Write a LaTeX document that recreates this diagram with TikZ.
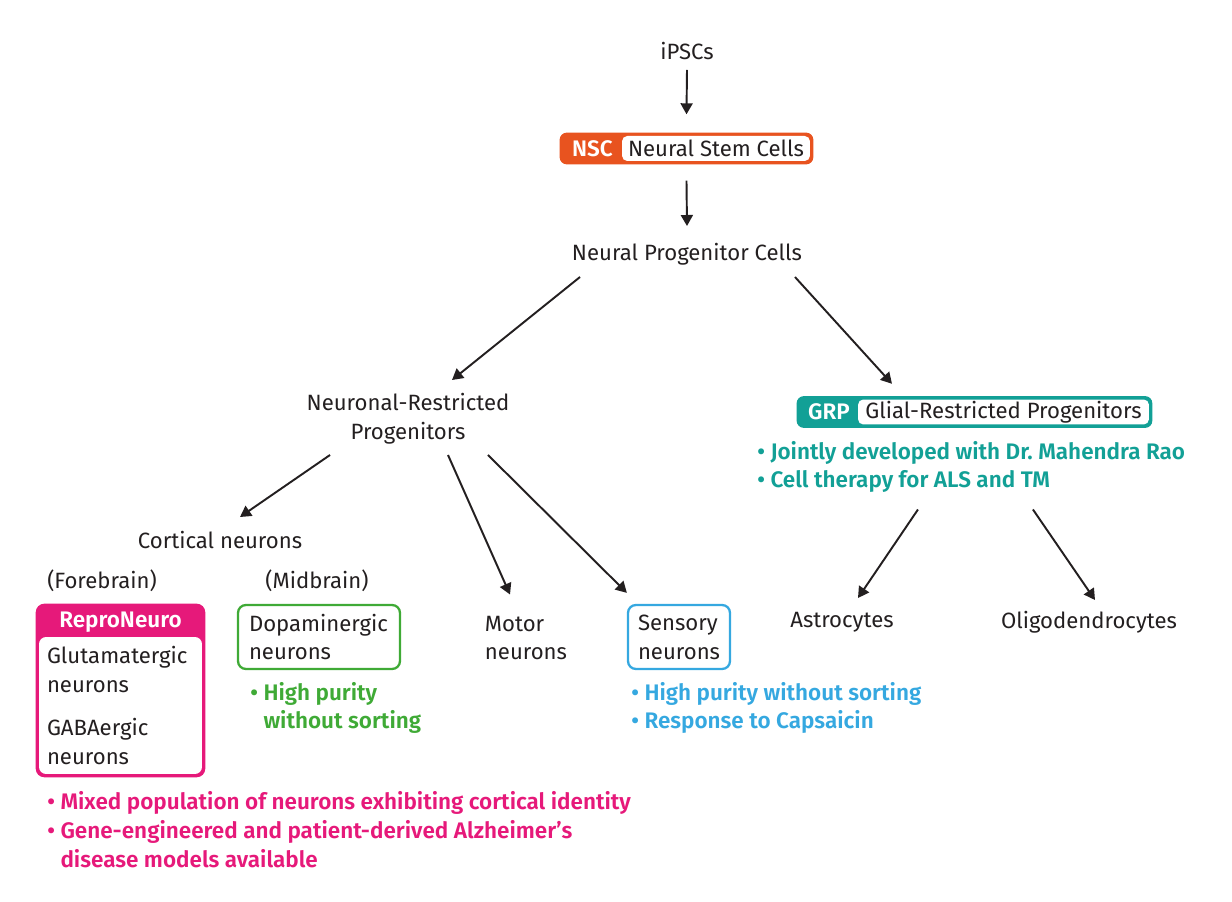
\documentclass[tikz,border=0pt]{standalone}
\usepackage{fontspec}
\setmainfont{Fira Sans}[BoldFont={Fira Sans SemiBold}]
\usetikzlibrary{arrows.meta,fit,backgrounds}

\definecolor{nscorange}{HTML}{E8531F}
\definecolor{grpteal}{HTML}{12A096}
\definecolor{repropink}{HTML}{E6197A}
\definecolor{dopagreen}{HTML}{3FAA36}
\definecolor{sensblue}{HTML}{35A8E0}
\definecolor{inkblack}{HTML}{231F20}

\begin{document}
\begin{tikzpicture}[
    x=0.02cm, y=-0.02cm,
    every node/.style={
        font=\fontsize{12.6pt}{16.4pt}\selectfont,
        text=inkblack
    },
    plain/.style={
        inner sep=0pt,
        align=center
    },
    tagname/.style={
        inner sep=0pt,
        minimum height=0.5cm,
        font=\fontsize{12.8pt}{16.4pt}\selectfont\bfseries,
        text=white
    },
    inbox/.style={
        rectangle,
        rounded corners=3pt,
        fill=white,
        inner sep=0pt,
        minimum height=0.5cm
    },
    tagframe/.style={
        rectangle,
        rounded corners=4pt,
        inner sep=0.06cm
    },
    cellbox/.style={
        rectangle,
        rounded corners=4.5pt,
        line width=1.3pt,
        fill=white,
        align=left,
        inner ysep=0pt,
        minimum height=1.28cm
    },
    notes/.style={
        inner sep=0pt,
        align=left,
        font=\fontsize{12.8pt}{16.4pt}\selectfont\bfseries
    },
    flow/.style={
        draw=inkblack,
        line width=1.1pt,
        -{Triangle[length=0.22cm, width=0.24cm]}
    }
]
\useasboundingbox (0,0) rectangle (1232,902);

% Top of the lineage
\node[plain] (ipsc) at (687,51) {iPSCs};
\node[tagname, minimum width=1.18cm] (nsctag) at (592.5,148.5) {NSC};
\node[inbox, minimum width=3.76cm] (nsc) at (716,148.5) {Neural Stem Cells};
\node[plain] (npc) at (687,254) {Neural Progenitor Cells};

% Restricted progenitors
\node[plain] (nrp) at (408,419) {Neuronal-Restricted\\Progenitors};
\node[tagname, minimum width=1.16cm] (grptag) at (829,412) {GRP};
\node[inbox, minimum width=5.82cm] (grp) at (1003.5,412) {Glial-Restricted Progenitors};
\node[notes, text=grpteal, anchor=west] (grpnotes) at (757,467)
    {\textbullet\ Jointly developed with Dr.\ Mahendra Rao\\\textbullet\ Cell therapy for ALS and TM};

% Neuronal branch
\node[plain] (cortical) at (220,540) {Cortical neurons};
\node[plain] (fore) at (102,581) {(Forebrain)};
\node[plain] (mid) at (317,581) {(Midbrain)};

\node[tagname, minimum width=3.26cm, minimum height=0.6cm] (reprotag) at (120.5,622) {ReproNeuro};
\node[inbox, rounded corners=4pt, minimum width=3.26cm, minimum height=2.74cm,
      text width=2.94cm, inner xsep=0.16cm, align=left] (repro) at (120.5,705.5)
    {Glutamatergic\\neurons\\[0.28cm]GABAergic\\neurons};
\node[notes, text=repropink, anchor=west] (repronotes) at (47,829.5)
    {\textbullet\ Mixed population of neurons exhibiting cortical identity\\\textbullet\ Gene-engineered and patient-derived Alzheimer’s\\\hphantom{\textbullet\ }disease models available};

\node[cellbox, draw=dopagreen, text width=2.8cm, inner xsep=0.22cm] (dopa) at (319,637) {Dopaminergic\\neurons};
\node[notes, text=dopagreen, anchor=west] (dopanotes) at (250,708)
    {\textbullet\ High purity\\\hphantom{\textbullet\ }without sorting};

\node[plain, align=left] (motor) at (526,638) {Motor\\neurons};

\node[cellbox, draw=sensblue, text width=1.64cm, inner xsep=0.2cm] (sensory) at (679,637) {Sensory\\neurons};
\node[notes, text=sensblue, anchor=west] (sensnotes) at (631,708)
    {\textbullet\ High purity without sorting\\\textbullet\ Response to Capsaicin};

% Glial branch
\node[plain] (astro) at (842,622) {Astrocytes};
\node[plain] (oligo) at (1089,622) {Oligodendrocytes};

% Tag frames
\begin{scope}[on background layer]
\node[tagframe, fill=nscorange, fit=(nsctag)(nsc)] (nscframe) {};
\node[tagframe, fill=grpteal, fit=(grptag)(grp)] (grpframe) {};
\node[tagframe, fill=repropink, rounded corners=5pt, fit=(reprotag)(repro)] (reproframe) {};
\end{scope}

% Arrows
\draw[flow] ([yshift=-0.38cm]ipsc.center) -- ([yshift=0.36cm]nscframe.north);
\draw[flow] ([yshift=-0.32cm]nscframe.south) -- ([yshift=0.56cm]npc.center);
\draw[flow] ([xshift=-2.14cm,yshift=-0.46cm]npc.center) -- ([xshift=0.88cm,yshift=0.78cm]nrp.center);
\draw[flow] ([xshift=2.16cm,yshift=-0.46cm]npc.center) -- ([xshift=-1.65cm,yshift=0.24cm]grpframe.north);
\draw[flow] ([xshift=-1.56cm,yshift=-0.72cm]nrp.center) -- ([xshift=0.4cm,yshift=0.46cm]cortical.center);
\draw[flow] ([xshift=0.8cm,yshift=-0.72cm]nrp.center) -- ([xshift=-0.32cm,yshift=0.87cm]motor.center);
\draw[flow] ([xshift=1.6cm,yshift=-0.72cm]nrp.center) -- ([yshift=0.22cm]sensory.north west);
\draw[flow] ([xshift=3.22cm,yshift=-0.85cm]grpnotes.west) -- ([xshift=0.32cm,yshift=0.48cm]astro.center);
\draw[flow] ([xshift=5.52cm,yshift=-0.85cm]grpnotes.west) -- ([xshift=0.12cm,yshift=0.44cm]oligo.center);

\end{tikzpicture}
\end{document}
